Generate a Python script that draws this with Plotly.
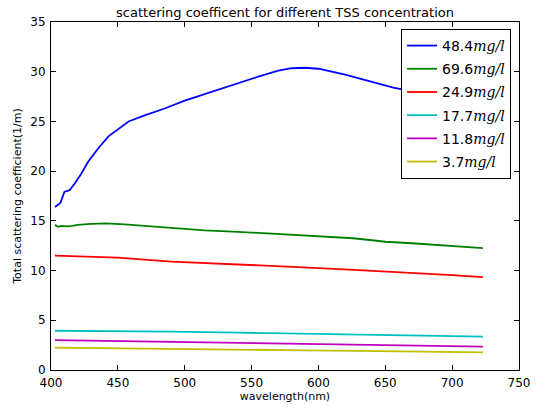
import plotly.graph_objects as go

# ---- data ----
wl_blue = [403, 405, 407, 410, 414, 418, 422, 428, 436, 443, 450, 458, 470, 485, 500,
           520, 540, 555, 570, 580, 590, 600, 620, 640, 656, 675, 690, 705, 723]
val_blue = [16.4, 16.6, 16.8, 17.9, 18.1, 18.8, 19.6, 21.0, 22.4, 23.5, 24.2, 25.0, 25.6,
            26.3, 27.1, 28.0, 28.9, 29.5, 30.1, 30.35, 30.4, 30.3, 29.7, 29.0, 28.4,
            27.9, 27.5, 27.1, 26.6]

wl_green = [403, 405, 408, 412, 416, 420, 430, 441, 455, 470, 490, 515, 540, 565, 589,
            610, 626, 640, 650, 670, 687, 705, 723]
val_green = [14.6, 14.4, 14.5, 14.45, 14.5, 14.6, 14.7, 14.75, 14.65, 14.5, 14.25, 14.05,
             13.9, 13.7, 13.5, 13.4, 13.25, 13.05, 12.9, 12.75, 12.6, 12.45, 12.25]

wl_line = [403, 450, 490, 540, 589, 630, 663, 700, 723]
val_red = [11.5, 11.3, 10.9, 10.65, 10.33, 10.05, 9.83, 9.55, 9.35]
val_cyan = [3.95, 3.93, 3.85, 3.75, 3.65, 3.55, 3.48, 3.4, 3.35]
val_magenta = [3.0, 2.9, 2.8, 2.7, 2.6, 2.52, 2.45, 2.38, 2.35]
val_yellow = [2.25, 2.2, 2.12, 2.05, 1.98, 1.92, 1.86, 1.8, 1.78]

labels = ["48.4", "69.6", "24.9", "17.7", "11.8", "3.7"]
colors = ["#0000ff", "#008000", "#ff0000", "#00bfbf", "#bf00bf", "#bfbf00"]

x_ticks = [400, 450, 500, 550, 600, 650, 700, 750]
y_ticks = [0, 5, 10, 15, 20, 25, 30, 35]

series = [
    (wl_blue, val_blue),
    (wl_green, val_green),
    (wl_line, val_red),
    (wl_line, val_cyan),
    (wl_line, val_magenta),
    (wl_line, val_yellow),
]

unit = "<span style=\"font-family:'DejaVu Serif';font-style:italic\">mg/l</span>"

fig = go.Figure()
for i, ((xs, ys), lab, col) in enumerate(zip(series, labels, colors)):
    fig.add_trace(go.Scatter(
        x=xs, y=ys, mode="lines", name=lab + unit,
        line=dict(color=col, width=1.8), legendgroup=f"g{i}",
    ))

axis_common = dict(
    showline=True, linecolor="black", linewidth=1, mirror="allticks",
    ticks="inside", ticklen=5, tickcolor="black", showgrid=False, zeroline=False,
    tickfont=dict(family="DejaVu Sans", size=12, color="black"),
)

fig.update_layout(
    width=542, height=410,
    margin=dict(l=51, r=17, t=22, b=40),
    paper_bgcolor="white", plot_bgcolor="white",
    font=dict(family="DejaVu Sans", color="black"),
    title=dict(text="scattering coefficent for different TSS concentration",
               x=0.5, xref="paper", xanchor="center", y=1 - 12 / 410, yanchor="middle",
               font=dict(family="DejaVu Sans", size=13, color="black")),
    xaxis=dict(range=[400, 750], tickvals=x_ticks, ticklabelstandoff=2,
               title=dict(text="wavelength(nm)", font=dict(size=11), standoff=0),
               **axis_common),
    yaxis=dict(range=[0, 35], tickvals=y_ticks, ticklabelstandoff=2,
               title=dict(text="Total scattering coefficient(1/m)", font=dict(size=11), standoff=6),
               **axis_common),
    legend=dict(x=0.983, xanchor="right", y=0.98, yanchor="top",
                bgcolor="white", bordercolor="black", borderwidth=1,
                font=dict(family="DejaVu Sans", size=14, color="black"),
                tracegroupgap=2, itemwidth=30),
    showlegend=True,
)

fig.write_html("out.html")
